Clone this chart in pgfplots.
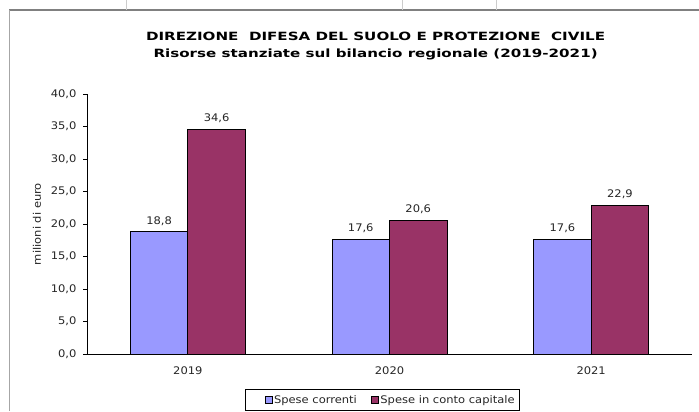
\documentclass[border=0pt]{standalone}
\usepackage{fontspec}
\setmainfont{DejaVu Sans}[FakeStretch=1.1]
\newfontfamily\titlefont{DejaVu Sans}[FakeStretch=1.33]
\usepackage{pgfplots}
\pgfplotsset{compat=1.18}

\definecolor{correnti}{HTML}{9999FF}
\definecolor{capitale}{HTML}{993366}
\definecolor{frame}{HTML}{808080}

\begin{document}
\begin{tikzpicture}[x=1bp,y=1bp]
\useasboundingbox (0,0) rectangle (699,411);
\fill[white] (0,0) rectangle (699,411);
% sheet borders
\draw[frame, line width=1.4bp] (9,401) -- (699,401);
\draw[frame!70, line width=0.8bp] (9,0) -- (9,401);
\foreach \xx in {126,402,496} \draw[frame!40, line width=0.8bp] (\xx,401) -- (\xx,411);

\begin{axis}[
  at={(87bp,57bp)}, anchor=south west,
  scale only axis, width=605bp, height=260bp,
  ybar=0pt, bar width=57.5bp,
  xmin=-0.5, xmax=2.5, ymin=0, ymax=40,
  axis x line*=bottom, axis y line*=left,
  axis line style={black, line width=0.8bp},
  xtick={0,1,2}, xticklabels={2019,2020,2021},
  major x tick style={draw=none},
  extra x ticks={-0.5,0.5,1.5,2.5}, extra x tick labels={},
  extra x tick style={major tick length=4bp, tick style={black, line width=0.8bp}},
  ytick={0,5,...,40},
  tick align=outside, major tick length=4bp,
  tick style={black, line width=0.8bp},
  /pgf/number format/assume math mode=true,
  yticklabel={\pgfmathprintnumber[fixed,fixed zerofill,precision=1,use comma,assume math mode=true]{\tick}},
  yticklabel style={xshift=-3bp},
  xticklabel style={yshift=-5bp},
  tick label style={font=\fontsize{10.5}{12}\selectfont, text=black!85},
  ylabel={milioni di euro},
  ylabel style={at={(-0.0826,0.5)}, anchor=center, font=\fontsize{10.5}{12}\selectfont, text=black!85},
  title={\textbf{DIREZIONE\ \ DIFESA DEL SUOLO E PROTEZIONE\ \ CIVILE}\\\textbf{Risorse stanziate sul bilancio regionale (2019-2021)}},
  title style={at={(0.477,1.161)}, anchor=center, align=center, font=\titlefont\fontsize{11.4}{16.5}\selectfont},
  nodes near coords,
  nodes near coords style={font=\fontsize{10.5}{12}\selectfont, text=black!85, inner sep=0pt, yshift=6bp,
    /pgf/number format/.cd, fixed, fixed zerofill, precision=1, use comma, assume math mode=true},
  legend columns=2,
  legend style={at={(0.4884,-0.177)}, anchor=center, draw=black, line width=0.8bp,
    font=\fontsize{10.5}{12}\selectfont, text=black!85, inner xsep=3bp, inner ysep=3.5bp,
    nodes={inner xsep=2bp},
    /tikz/every even column/.append style={column sep=12bp}},
  legend image code/.code={\draw[#1, draw=black, line width=0.5bp] (0bp,-3.5bp) rectangle (7bp,3.5bp);},
]
\addplot[fill=correnti, draw=black, line width=0.8bp,
  legend image code/.code={\path (-16bp,0bp); \draw[fill=correnti, draw=black, line width=0.5bp] (0bp,-3.5bp) rectangle (7bp,3.5bp);}]
  coordinates {(0,18.8) (1,17.6) (2,17.6)};
\addplot[fill=capitale, draw=black, line width=0.8bp] coordinates {(0,34.6) (1,20.6) (2,22.9)};
\legend{Spese correnti, Spese in conto capitale}
\end{axis}
\end{tikzpicture}
\end{document}
